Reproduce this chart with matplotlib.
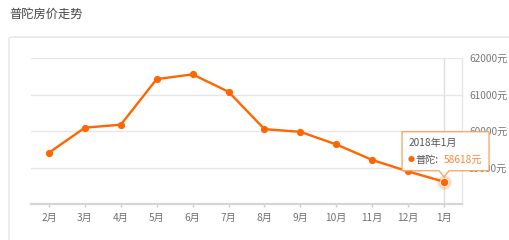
import matplotlib
matplotlib.use("Agg")
import matplotlib.pyplot as plt
from matplotlib.patches import FancyBboxPatch, Polygon
from matplotlib.transforms import IdentityTransform

plt.rcParams['font.family'] = ['Noto Sans CJK SC', 'DejaVu Sans']

title = "普陀房价走势"
months = ["2月", "3月", "4月", "5月", "6月", "7月", "8月", "9月", "10月", "11月", "12月", "1月"]
prices = [59414, 60099, 60181, 61430, 61559, 61082, 60060, 59985, 59640, 59215, 58900, 58618]
yticks = [59000, 60000, 61000, 62000]
tip_date = "2018年1月"
tip_name = "普陀"

W, H = 509, 240
ORANGE = "#ff6600"

fig = plt.figure(figsize=(W / 100, H / 100), dpi=100)
fig.patch.set_facecolor("white")

def fx(x):
    return x / W

def fy(y):
    return 1 - y / H

# outer panel and title
panel = FancyBboxPatch((fx(9), fy(300)), fx(600), 300 / H - 37 / H,
                       boxstyle="round,pad=0,rounding_size=0.008",
                       transform=fig.transFigure, fc="white", ec="#e6e6e6", lw=1,
                       zorder=-5)
fig.patches.append(panel)
fig.text(fx(9), fy(14), title, fontsize=8.8, color="#444444", va="center", ha="left")

ax = fig.add_axes([fx(31), fy(204.3), fx(462 - 31), (204.3 - 58.3) / H])
ax.set_facecolor("none")
x = list(range(len(months)))
ax.set_xlim(-0.5, len(months) - 0.5)
ax.set_ylim(58000, 62000)

ax.plot(x, prices, color=ORANGE, lw=1.7, marker="o", ms=4.2, zorder=4)
ax.plot(x[-1], prices[-1], "o", color=ORANGE, ms=10, alpha=0.25, mec="none", zorder=5)
ax.plot(x[-1], prices[-1], "o", color=ORANGE, ms=6, mec="white", mew=0.6, zorder=6)

# axis pointer
ax.axvline(x[-1], color="#dddddd", lw=1, zorder=1)

ax.set_yticks(yticks)
ax.set_yticklabels([f"{v}元" for v in yticks])
ax.yaxis.tick_right()
ax.tick_params(axis="y", length=0, pad=5, labelsize=7.3, labelcolor="#777777")
ax.grid(axis="y", color="#e6e6e6", lw=1, zorder=0)

ax.set_xticks(x)
ax.set_xticklabels(months)
ax.tick_params(axis="x", length=2.5, width=1, color="#cccccc", pad=4,
               labelsize=7.3, labelcolor="#707070")

for s in ["top", "left"]:
    ax.spines[s].set_visible(False)
ax.spines["bottom"].set_color("#d6d6d6")
ax.spines["bottom"].set_linewidth(1.6)
ax.spines["right"].set_color("#e6e6e6")
ax.spines["right"].set_linewidth(1)

# tooltip anchored to the last point
fig.canvas.draw()
px, py = ax.transData.transform((x[-1], prices[-1]))
L, R, B, T = px - 42, px + 45, py + 11, py + 50
tip = Polygon([(L, T), (R, T), (R, B), (px + 5, B), (px, py + 5), (px - 5, B), (L, B)],
              closed=True, transform=IdentityTransform(), fc="white", ec="#f7a05c",
              lw=0.9, zorder=20)
fig.patches.append(tip)
fig.text(fx(L + 6), (T - 11) / H, tip_date, fontsize=7.3, color="#555555",
         va="center", ha="left", zorder=21)
fig.text(fx(L + 6), (T - 28) / H, "●", fontsize=5, color=ORANGE,
         va="center", ha="left", zorder=21)
fig.text(fx(L + 13), (T - 28) / H, tip_name + ":", fontsize=7.3, color="#555555",
         va="center", ha="left", zorder=21)
fig.text(fx(px), (T - 28) / H, f"{prices[-1]}元", fontsize=7.3, color="#ff8533",
         va="center", ha="left", zorder=21)

fig.savefig("out.png", dpi=100)
